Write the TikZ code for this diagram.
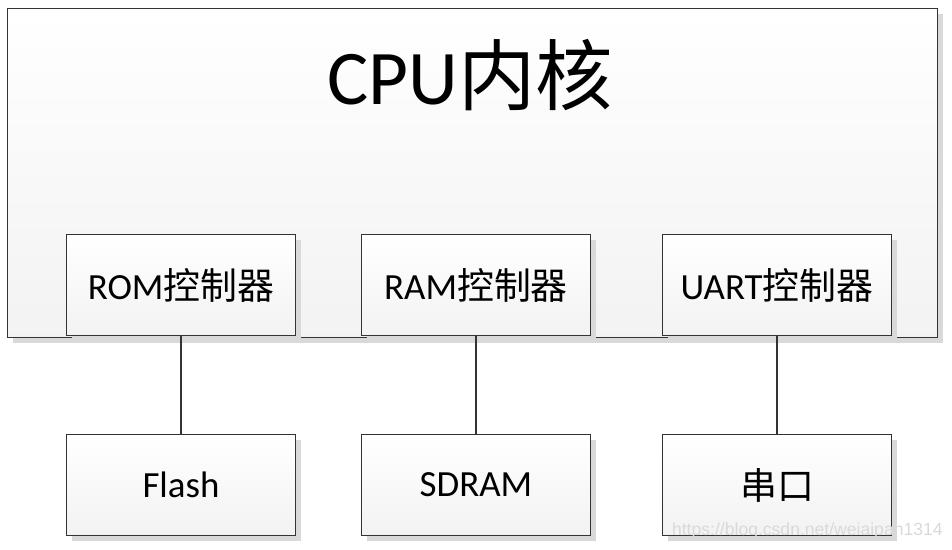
\documentclass[tikz,border=0pt]{standalone}
\usepackage{fontspec}
\setmainfont{Carlito}
\newfontfamily\cjk{Noto Sans CJK SC}
\newfontfamily\wm{Liberation Sans}
\usetikzlibrary{shadows}
\tikzset{
  box/.style={draw=black!80, line width=0.8pt, top color=white, bottom color=black!5,
    drop shadow={shadow xshift=3pt, shadow yshift=-3pt, fill=black!15, opacity=1}},
  ctrl/.style={box, minimum width=4.58cm, minimum height=2.02cm, font=\fontsize{21}{21}\selectfont},
  link/.style={draw=black!80, line width=0.8pt}
}
\begin{document}
\begin{tikzpicture}[x=0.02cm, y=-0.02cm]
    \useasboundingbox (0,0) rectangle (952,549);
    % CPU core
    \node[box, anchor=north west, minimum width=18.6cm, minimum height=6.58cm] (cpu) at (7,8) {};
    \node (title) at (470,75) {\fontsize{44}{44}\selectfont CPU\cjk 内核};

    % controllers
    \node[ctrl] (rom) at (181,285) {ROM\cjk 控制器};
    \node[ctrl] (ram) at (476,285) {RAM\cjk 控制器};
    \node[ctrl] (uart) at (777,285) {UART\cjk 控制器};

    % devices
    \node[ctrl] (flash) at (181,485) {Flash};
    \node[ctrl] (sdram) at (476,485) {SDRAM};
    \node[ctrl] (com) at (777,485) {\cjk 串口};

    \draw[link] (rom) -- (flash);
    \draw[link] (ram) -- (sdram);
    \draw[link] (uart) -- (com);

    \node[text=black!15, anchor=east, inner sep=0pt, font=\wm\fontsize{10}{10}\selectfont] (mark) at (943,531) {https://blog.csdn.net/weiaipan1314};
\end{tikzpicture}
\end{document}
